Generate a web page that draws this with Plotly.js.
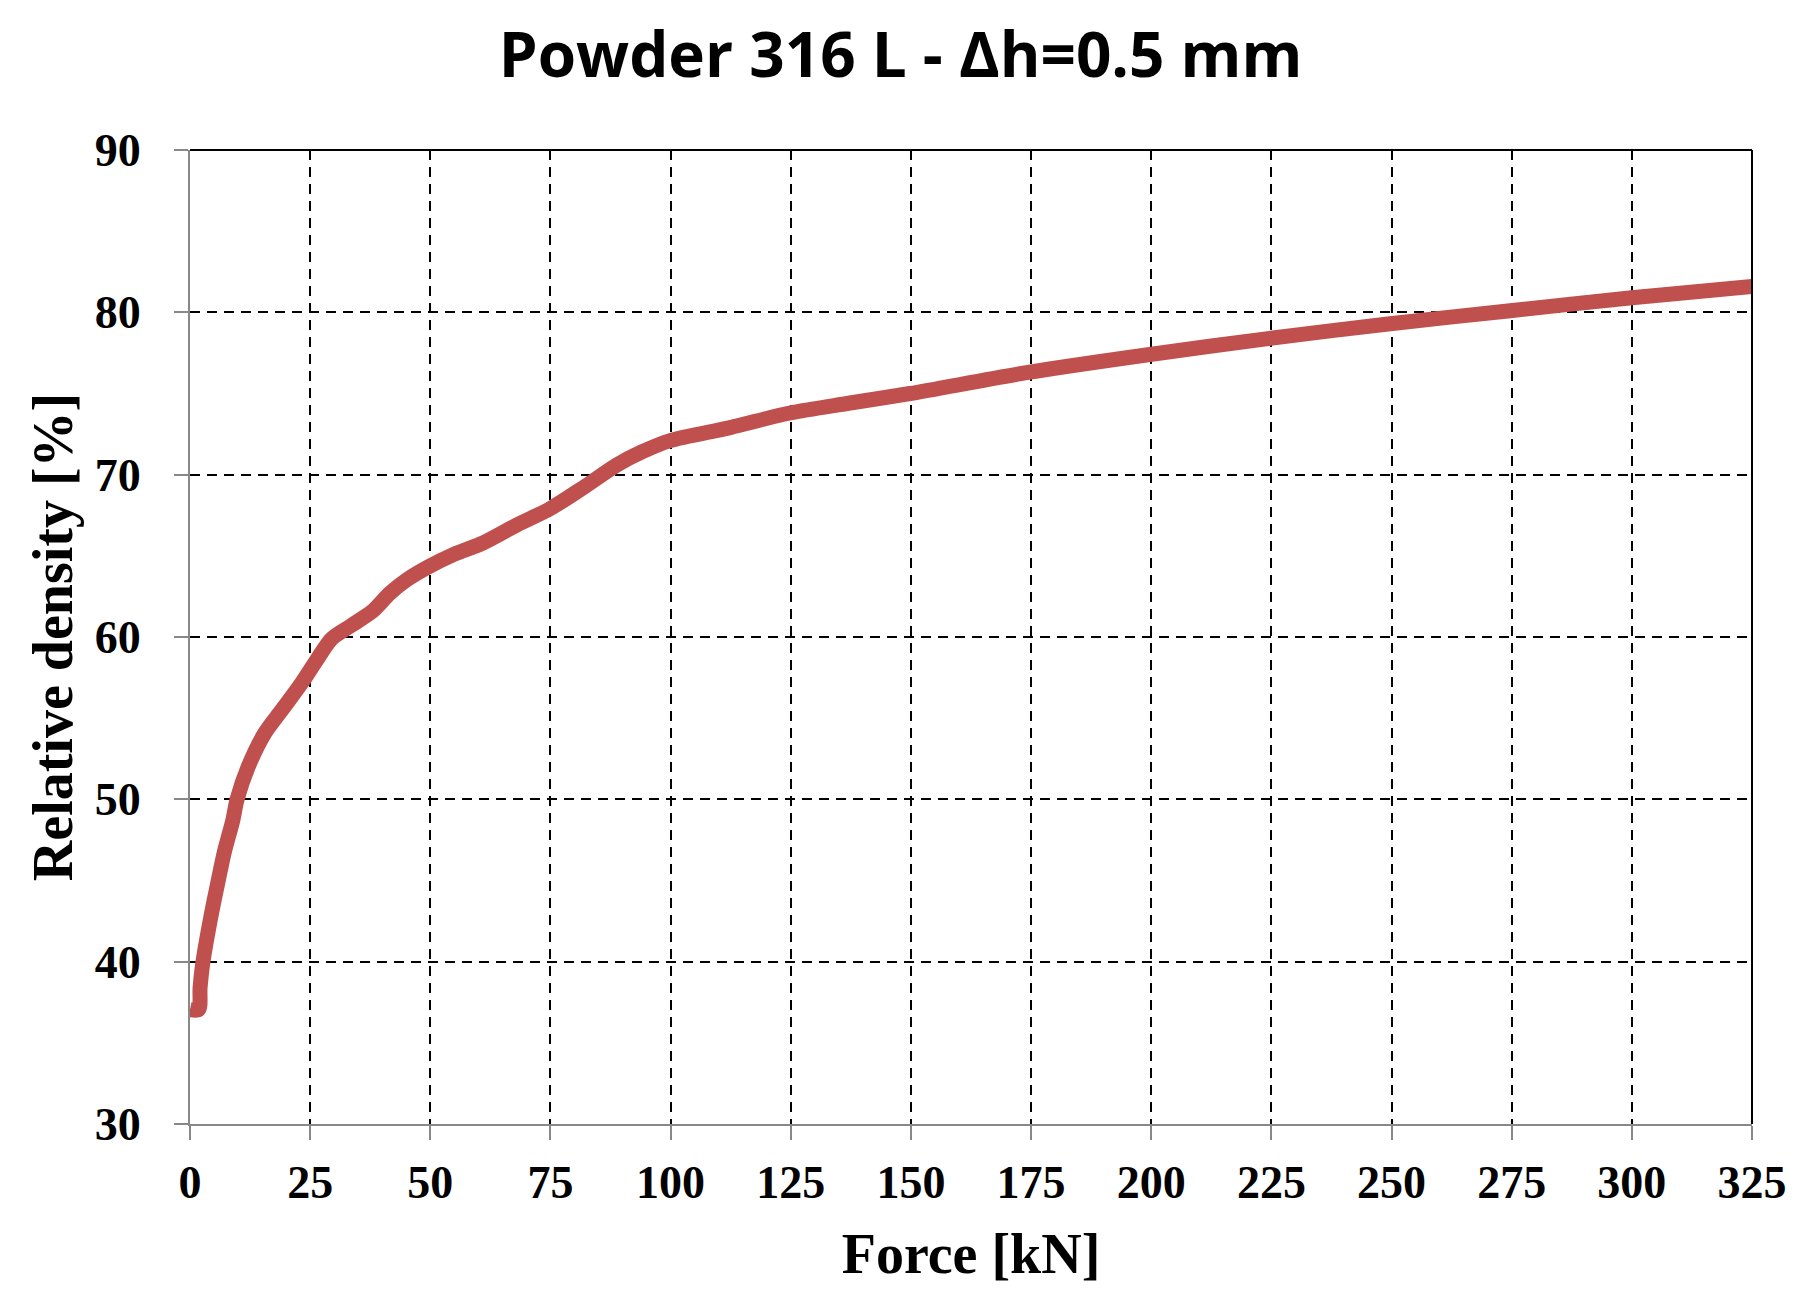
<!DOCTYPE html>
<html>
<head>
<meta charset="utf-8">
<script src="https://cdn.plot.ly/plotly-3.0.1.min.js"></script>
<style>html,body{margin:0;padding:0;background:#fff;}#chart{width:1812px;height:1314px;}</style>
</head>
<body>
<div id="chart"></div>
<script>
// Data
const forceKN = [0, 1.8, 2.1, 2.7, 4.2, 5.6, 7.1, 8.9, 9.8, 12.1, 15.6, 19.1, 23.3, 26.4, 29.5, 33.5, 38, 41.6, 45, 49.5, 55, 61, 68, 74.9, 81.8, 88.8, 94, 99.9, 112.4, 124.8, 137, 149.8, 174.4, 199.7, 224.7, 249.7, 274.7, 300, 325];
const relDensity = [37.05, 37.05, 38.4, 40, 42.55, 44.6, 46.7, 48.7, 50, 52, 54.1, 55.5, 57.2, 58.6, 59.9, 60.7, 61.6, 62.7, 63.5, 64.3, 65.1, 65.8, 66.9, 67.9, 69.2, 70.6, 71.4, 72.1, 72.9, 73.8, 74.4, 75.0, 76.3, 77.4, 78.4, 79.3, 80.1, 80.9, 81.6];
const xTicks = [0, 25, 50, 75, 100, 125, 150, 175, 200, 225, 250, 275, 300, 325];
const yTicks = [30, 40, 50, 60, 70, 80, 90];
const chartTitle = 'Powder 316 L - Δh=0.5 mm';
const xTitle = 'Force [kN]';
const yTitle = 'Relative density [%]';

const tickFont = {family: '"Liberation Serif", "Times New Roman", serif', size: 46, color: '#000', weight: 'bold'};
const axisTitleFont = {family: '"Liberation Serif", "Times New Roman", serif', size: 56, color: '#000', weight: 'bold'};

const trace = {
  x: forceKN, y: relDensity, type: 'scatter', mode: 'lines',
  line: {color: '#C0504D', width: 15, shape: 'spline', smoothing: 0.8},
  hoverinfo: 'skip', showlegend: false
};

const layout = {
  width: 1812, height: 1314,
  margin: {l: 190, r: 60, t: 150, b: 190},
  paper_bgcolor: '#fff', plot_bgcolor: '#fff',
  title: {text: '<b>' + chartTitle + '</b>', x: 0.497, xref: 'container', xanchor: 'center', y: 0.958, yref: 'container', yanchor: 'middle',
          font: {family: '"Open Sans", "Noto Sans", sans-serif', size: 62, color: '#000'}},
  xaxis: {
    range: [0, 325], tickvals: xTicks, ticktext: xTicks.map(String),
    showgrid: true, gridcolor: '#000', gridwidth: 2, griddash: '10px,7px',
    zeroline: false, showline: true, linecolor: '#888', linewidth: 2,
    ticks: 'outside', ticklen: 14, tickcolor: '#888', tickwidth: 2,
    ticklabelstandoff: 3,
    tickfont: tickFont,
    title: {text: xTitle, font: axisTitleFont, standoff: 27},
    automargin: false, fixedrange: true
  },
  yaxis: {
    range: [30, 90], tickvals: yTicks, ticktext: yTicks.map(String),
    showgrid: true, gridcolor: '#000', gridwidth: 2, griddash: '10px,7px',
    zeroline: false, showline: true, linecolor: '#888', linewidth: 2,
    ticks: 'outside', ticklen: 14, tickcolor: '#888', tickwidth: 2,
    ticklabelstandoff: 24,
    tickfont: tickFont,
    title: {text: yTitle, font: axisTitleFont, standoff: 4},
    automargin: false, fixedrange: true
  },
  shapes: [
    {type: 'line', xref: 'paper', yref: 'paper', x0: 0, x1: 1, y0: 1, y1: 1, line: {color: '#000', width: 2}},
    {type: 'line', xref: 'paper', yref: 'paper', x0: 1, x1: 1, y0: 0, y1: 1, line: {color: '#000', width: 2}}
  ]
};

Plotly.newPlot('chart', [trace], layout, {displayModeBar: false, staticPlot: true});
</script>
</body>
</html>
